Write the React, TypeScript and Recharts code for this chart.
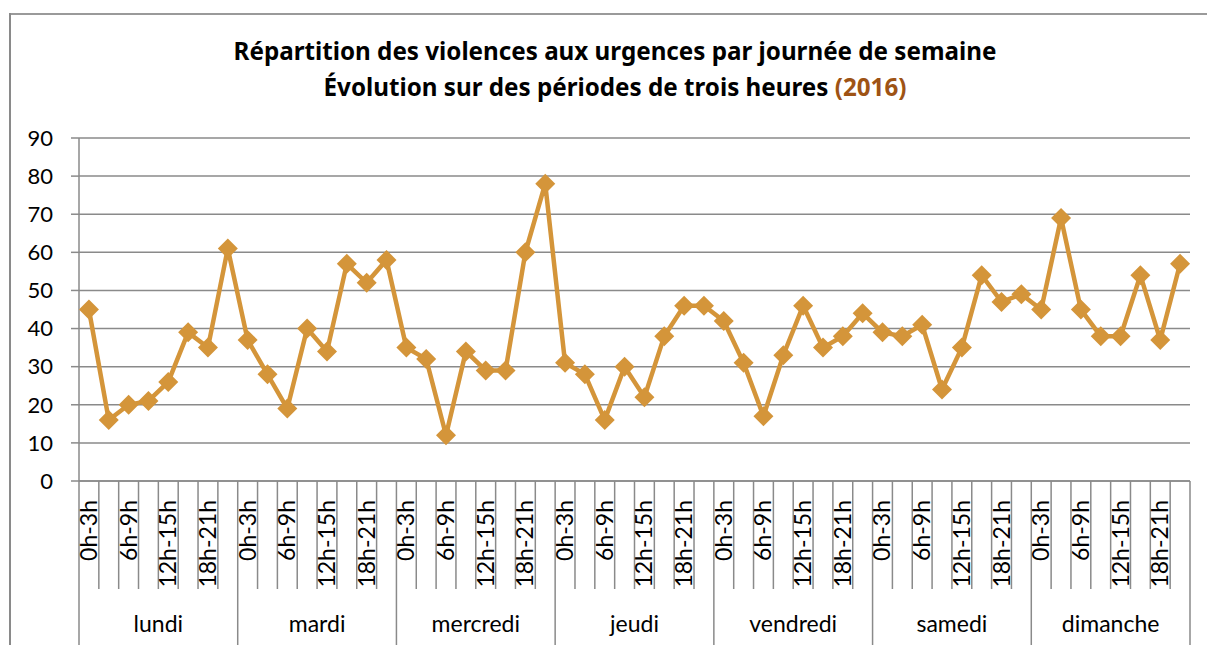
import React from "react";
import { LineChart, Line, XAxis, YAxis, CartesianGrid } from "recharts";

const days = ["lundi", "mardi", "mercredi", "jeudi", "vendredi", "samedi", "dimanche"];
const periods = ["0h-3h", "3h-6h", "6h-9h", "9h-12h", "12h-15h", "15h-18h", "18h-21h", "21h-24h"];

const lundi = [45, 16, 20, 21, 26, 39, 35, 61];
const mardi = [37, 28, 19, 40, 34, 57, 52, 58];
const mercredi = [35, 32, 12, 34, 29, 29, 60, 78];
const jeudi = [31, 28, 16, 30, 22, 38, 46, 46];
const vendredi = [42, 31, 17, 33, 46, 35, 38, 44];
const samedi = [39, 38, 41, 24, 35, 54, 47, 49];
const dimanche = [45, 69, 45, 38, 38, 54, 37, 57];

const yTicks = [0, 10, 20, 30, 40, 50, 60, 70, 80, 90];

const values = [lundi, mardi, mercredi, jeudi, vendredi, samedi, dimanche];
const data = days.flatMap((day, di) =>
  periods.map((period, pi) => ({
    key: `${day} ${period}`,
    day,
    period,
    value: values[di][pi],
  }))
);

const W = 1207;
const H = 645;
const PLOT_LEFT = 79;
const PLOT_RIGHT = 1190;
const BW = (PLOT_RIGHT - PLOT_LEFT) / data.length;
const FONT = "Lato, 'Noto Sans', sans-serif";
const TITLE_FONT = "'Noto Sans', Lato, sans-serif";
const GRAY = "#8a8a8a";
const ORANGE = "#D4953A";

const PeriodTick = (props: any) => {
  const { x, y, payload } = props;
  const i = payload.index;
  const row = data[i];
  const left = x - BW / 2;
  const last = i === data.length - 1;
  return (
    <g>
      <line x1={left} y1={y} x2={left} y2={y + (i % 8 === 0 ? 164 : 108)} stroke={GRAY} strokeWidth={1.5} />
      {last && <line x1={x + BW / 2} y1={y} x2={x + BW / 2} y2={y + 164} stroke={GRAY} strokeWidth={1.5} />}
      {i % 2 === 0 && (
        <text
          x={x + 8}
          y={y + 19}
          transform={`rotate(-90 ${x + 8} ${y + 19})`}
          textAnchor="end"
          fontSize={23}
          fontFamily={FONT}
          fill="#000"
        >
          {row.period}
        </text>
      )}
      {i % 8 === 3 && (
        <text x={x + BW / 2} y={y + 151} textAnchor="middle" fontSize={23} fontFamily={FONT} fill="#000">
          {row.day}
        </text>
      )}
    </g>
  );
};

const Diamond = (props: any) => {
  const { cx, cy } = props;
  if (cx == null || cy == null) return null;
  const r = 10;
  return (
    <polygon
      points={`${cx},${cy - r} ${cx + r},${cy} ${cx},${cy + r} ${cx - r},${cy}`}
      fill={ORANGE}
      stroke="none"
    />
  );
};

export default function App() {
  return (
    <div style={{ position: "absolute", left: 0, top: 0, width: W, height: H, background: "#fff" }}>
      <svg width={W} height={H} style={{ position: "absolute", left: 0, top: 0 }}>
        <line x1={10} y1={14} x2={W} y2={14} stroke="#9a9a9a" strokeWidth={2} />
        <line x1={10} y1={13} x2={10} y2={H} stroke="#8a8a8a" strokeWidth={2} />
        <text x={615} y={60} textAnchor="middle" fontSize={24.2} fontWeight="bold" fontFamily={TITLE_FONT} fill="#000">
          Répartition des violences aux urgences par journée de semaine
        </text>
        <text x={615} y={96} textAnchor="middle" fontSize={24.2} fontWeight="bold" fontFamily={TITLE_FONT} fill="#000">
          Évolution sur des périodes de trois heures <tspan fill="#9E5314">(2016)</tspan>
        </text>
      </svg>
      <div style={{ position: "absolute", left: 0, top: 0 }}>
        <LineChart width={W} height={H} data={data} margin={{ top: 138, right: W - PLOT_RIGHT, left: 0, bottom: 0 }}>
          <CartesianGrid vertical={false} stroke={GRAY} strokeWidth={1.5} />
          <XAxis
            dataKey="key"
            interval={0}
            height={H - 481}
            padding={{ left: BW / 2, right: BW / 2 }}
            tickLine={false}
            tickSize={0}
            tickMargin={0}
            axisLine={{ stroke: GRAY, strokeWidth: 1.5 }}
            tick={<PeriodTick />}
          />
          <YAxis
            width={PLOT_LEFT}
            domain={[0, 90]}
            ticks={yTicks}
            interval={0}
            tickSize={8}
            tickMargin={18}
            axisLine={{ stroke: GRAY, strokeWidth: 1.5 }}
            tickLine={{ stroke: GRAY, strokeWidth: 1.5 }}
            tick={{ fontSize: 22, fontFamily: FONT, fill: "#000" }}
          />
          <Line
            type="linear"
            dataKey="value"
            stroke={ORANGE}
            strokeWidth={4.5}
            dot={<Diamond />}
            activeDot={false}
            isAnimationActive={false}
          />
        </LineChart>
      </div>
    </div>
  );
}
